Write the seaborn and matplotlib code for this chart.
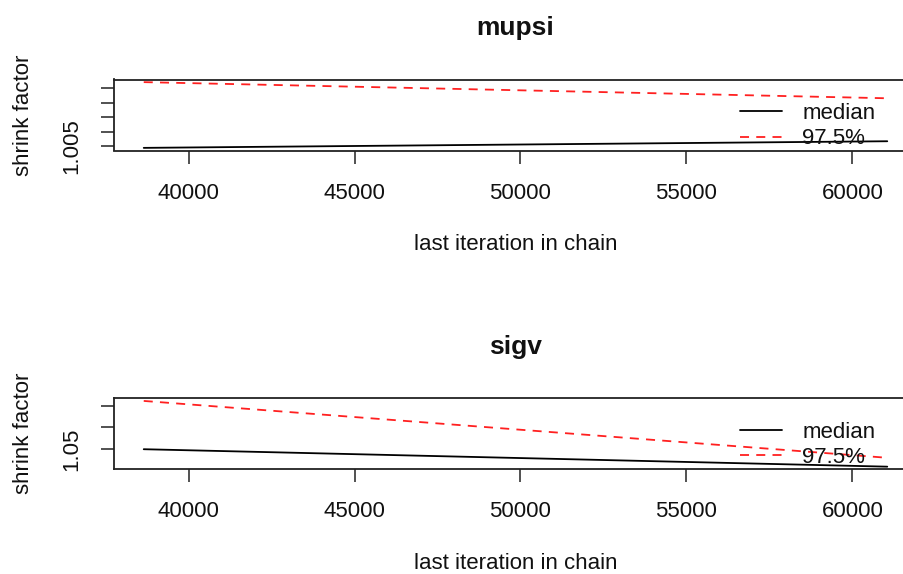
import matplotlib
matplotlib.use("Agg")
import matplotlib.pyplot as plt
import numpy as np
import pandas as pd
import seaborn as sns

# Gelman-Rubin shrink factor diagnostics (last iteration in chain vs. shrink factor)
last_iter = [38650, 61050]

mupsi_median = [1.0044, 1.0067]
mupsi_upper = [1.0272, 1.0216]

sigv_median = [1.0493, 1.0090]
sigv_upper = [1.1608, 1.0295]

x_ticks = [40000, 45000, 50000, 55000, 60000]
mupsi_yticks = [1.005, 1.010, 1.015, 1.020, 1.025]
mupsi_ylabels = ["1.005", "", "", "", ""]
sigv_yticks = [1.05, 1.10, 1.15]
sigv_ylabels = ["1.05", "", ""]

sns.set_style("white")
plt.rcParams["font.family"] = ["Liberation Sans", "DejaVu Sans"]
plt.rcParams.update({
    "text.color": "#111111",
    "axes.labelcolor": "#111111",
    "xtick.color": "#222222",
    "ytick.color": "#222222",
    "xtick.labelcolor": "#111111",
    "ytick.labelcolor": "#111111",
})

W, H = 904, 574
fig = plt.figure(figsize=(W / 100, H / 100), dpi=100)


def px_axes(left, top, right, bottom):
    return fig.add_axes([left / W, 1 - bottom / H, (right - left) / W, (bottom - top) / H])


panels = [
    ("mupsi", mupsi_median, mupsi_upper, mupsi_yticks, mupsi_ylabels, (79.5, 150.5)),
    ("sigv", sigv_median, sigv_upper, sigv_yticks, sigv_ylabels, (398.3, 469.3)),
]

for name, med, upp, yt, yl, (top, bottom) in panels:
    ax = px_axes(114, top, 917, bottom)
    h = bottom - top
    df = pd.DataFrame({
        "iter": last_iter * 2,
        "shrink": list(med) + list(upp),
        "stat": ["median"] * len(med) + ["97.5%"] * len(upp),
    })
    sns.lineplot(data=df[df.stat == "median"], x="iter", y="shrink", ax=ax,
                 color="black", lw=1.3, label="median", legend=False)
    sns.lineplot(data=df[df.stat == "97.5%"], x="iter", y="shrink", ax=ax,
                 color="#ff2020", lw=1.3, label="97.5%", legend=False)
    ax.lines[-1].set_dashes((5, 4))
    ax.margins(x=0.04, y=0.04)
    ax.autoscale_view()

    ax.set_xticks(x_ticks)
    ax.set_xticklabels([str(v) for v in x_ticks])
    ax.set_yticks(yt)
    ax.set_yticklabels(yl, rotation=90, va="center")
    ax.tick_params(axis="both", direction="out", length=9.6, width=1.1,
                   labelsize=16, pad=13.5, left=True, bottom=True)
    for sp in ax.spines.values():
        sp.set_visible(True)
        sp.set_color("#222222")
        sp.set_linewidth(1.3)

    ax.set_title(name, fontsize=19, fontweight="bold", pad=32)
    ax.set_xlabel("last iteration in chain", fontsize=16)
    ax.set_ylabel("shrink factor", fontsize=16)
    ax.xaxis.set_label_coords(0.5, -94 / h)
    ax.xaxis.label.set_va("center")
    ax.yaxis.set_label_coords(-90 / 803, 0.5)
    ax.yaxis.label.set_va("center")

    ax.legend(loc="upper left", bbox_to_anchor=((740 - 114) / 803, 1 - 23.5 / h),
              frameon=False, fontsize=16, handlelength=1.9, handletextpad=0.9,
              labelspacing=0.2, borderpad=0, borderaxespad=0)

fig.savefig("out.png", dpi=100)
